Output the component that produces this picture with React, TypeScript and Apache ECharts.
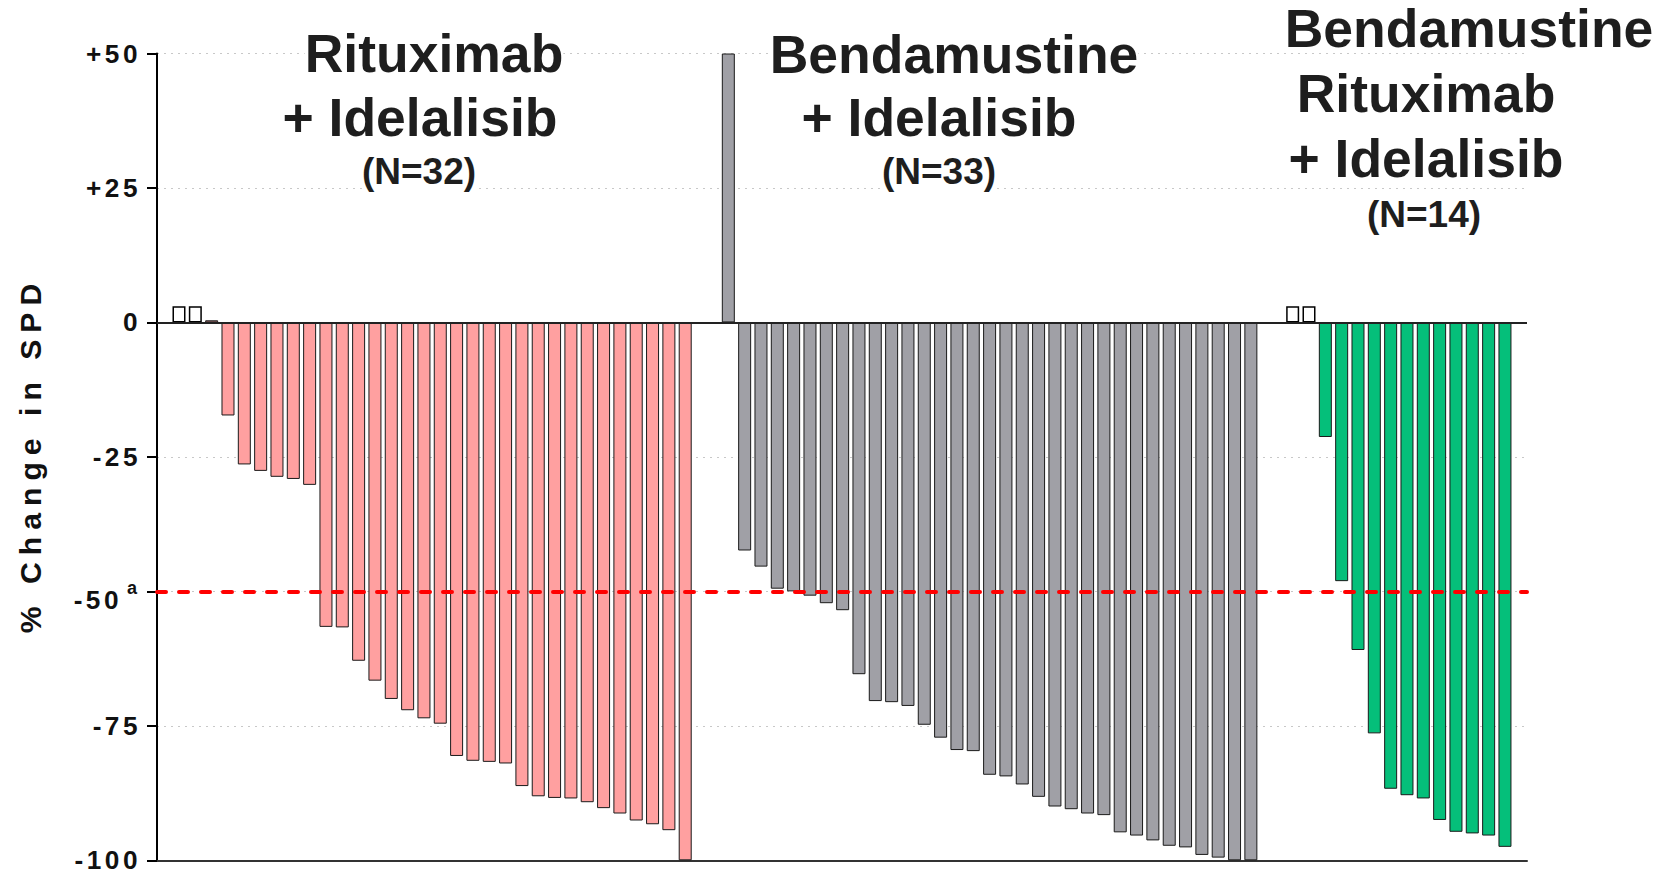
import React, { useEffect, useRef } from 'react';
import * as echarts from 'echarts';

// Best % change in SPD per patient, sorted within each arm.
// Open boxes mark patients drawn as empty markers on the baseline.
const rituxIdelaOpen = [3, 3];
const rituxIdelaChange = [
  0.4, -17.3, -26.4, -27.6, -28.7, -29.1, -30.2, -56.6, -56.7, -62.9, -66.6, -70.0,
  -72.1, -73.6, -74.6, -80.6, -81.5, -81.7, -82.0, -86.2, -88.1, -88.4, -88.5, -89.2,
  -90.3, -91.3, -92.6, -93.3, -94.4, -100,
];
const bendaIdelaChange = [
  50, -42.4, -45.4, -49.5, -50.0, -50.8, -52.2, -53.5, -65.4, -70.4, -70.6, -71.3,
  -74.8, -77.2, -79.5, -79.7, -84.1, -84.4, -85.9, -88.2, -90.0, -90.5, -91.3, -91.6,
  -94.8, -95.4, -96.3, -97.3, -97.6, -99.0, -99.5, -100, -100,
];
const bendaRituxIdelaOpen = [3, 3];
const bendaRituxIdelaChange = [
  -21.3, -48.1, -60.9, -76.4, -86.7, -87.9, -88.5, -92.5, -94.7, -95.0, -95.4, -97.5,
];

const yMin = -100;
const yMax = 50;
const yStep = 25;
const responseThreshold = -50;

const armTitles = [
  ['Rituximab', '+ Idelalisib', '(N=32)'],
  ['Bendamustine', '+ Idelalisib', '(N=33)'],
  ['Bendamustine', 'Rituximab', '+ Idelalisib', '(N=14)'],
];
const yAxisTitle = '% Change in SPD';

// ---- layout (slot units on the x axis, pixels elsewhere) ----
const ARM_START = [0, 33.64, 68.2];
const X_MIN = -1.347;
const X_MAX = 82.55;
const BAR_W = 13;

// [centerX, centerY, fontSize, whiteBox] for each title line
const titleLayout: [number, number, number, boolean][][] = [
  [[434, 53.5, 53.5, true], [420, 117, 53.5, true], [419, 171, 37, true]],
  [[954, 54, 53.5, true], [939, 117, 53.5, true], [939, 171, 37, true]],
  [[1469, 28, 53.5, false], [1426, 93, 53.5, false], [1426, 158, 53.5, false], [1424, 214, 37, false]],
];

const FONT = '"Liberation Sans", Arial, Helvetica, sans-serif';
// letter-spaced texts are picked out by their (unique) font sizes
const TICK_FS = 26.2;
const YTITLE_FS = 30.2;

const css = `
.spd-chart text[style*="26.2px"] { letter-spacing: 3.5px; }
.spd-chart text[style*="30.2px"] { letter-spacing: 7px; }
`;

const PINK = '#FFA0A0';
const GRAY = '#A0A0A6';
const GREEN = '#05BF7A';
const EDGE = '#1a1a1a';

const place = (start: number, values: number[]) =>
  values.map((v, i) => [start + i, v]);

export default function App() {
  const ref = useRef<HTMLDivElement>(null);

  useEffect(() => {
    document.body.style.margin = '0';
    if (!ref.current) return;
    const chart = echarts.init(ref.current, undefined, { renderer: 'svg' });

    const barBase = {
      type: 'bar' as const,
      barWidth: BAR_W,
      barGap: '-100%',
      silent: true,
    };

    const graphics: any[] = [];
    armTitles.forEach((lines, g) => {
      lines.forEach((line, i) => {
        const [cx, cy, fs, box] = titleLayout[g][i];
        graphics.push({
          type: 'text',
          x: cx,
          y: cy,
          z: 100,
          silent: true,
          style: {
            text: line,
            fontSize: fs,
            fontWeight: 'bold',
            fontFamily: FONT,
            fill: '#1e1e1e',
            align: 'center',
            verticalAlign: 'middle',
            textAlign: 'center',
            textVerticalAlign: 'middle',
            backgroundColor: box ? '#ffffff' : 'transparent',
          },
        });
      });
    });

    graphics.push({
      type: 'text',
      x: 30,
      y: 455,
      rotation: Math.PI / 2,
      z: 100,
      silent: true,
      style: {
        text: yAxisTitle,
        fontSize: YTITLE_FS,
        fontWeight: 'bold',
        fontFamily: FONT,
        fill: '#111111',
        align: 'center',
        verticalAlign: 'middle',
        textAlign: 'center',
        textVerticalAlign: 'middle',
      },
    });

    chart.setOption({
      animation: false,
      backgroundColor: '#ffffff',
      grid: { left: 157, right: 143, top: 53.5, bottom: 13.7, containLabel: false },
      xAxis: {
        type: 'value',
        min: X_MIN,
        max: X_MAX,
        axisLine: { show: true, onZero: false, lineStyle: { color: '#333333', width: 2 } },
        axisTick: { show: false },
        axisLabel: { show: false },
        splitLine: { show: false },
      },
      yAxis: {
        type: 'value',
        min: yMin,
        max: yMax,
        interval: yStep,
        axisLine: { show: true, onZero: false, lineStyle: { color: '#000000', width: 2 } },
        axisTick: { show: true, length: 10, lineStyle: { color: '#000000', width: 2 } },
        splitLine: {
          show: true,
          lineStyle: { color: '#c8c8c8', width: 1, type: [2, 5] },
        },
        axisLabel: {
          margin: 16,
          color: '#111111',
          fontSize: TICK_FS,
          fontWeight: 'bold',
          fontFamily: FONT,
          formatter: (v: number) => {
            if (v === responseThreshold) return `{v|${v}}{sup|a}`;
            return v > 0 ? `+${v}` : `${v}`;
          },
          rich: {
            v: {
              fontSize: TICK_FS,
              fontWeight: 'bold',
              fontFamily: FONT,
              color: '#111111',
              padding: [18, 0, 0, 0],
            },
            sup: {
              fontSize: 18,
              fontWeight: 'bold',
              fontFamily: FONT,
              color: '#111111',
              padding: [0, 4, 6, 5],
            },
          },
        },
      },
      graphic: graphics,
      series: [
        {
          ...barBase,
          name: 'Rituximab + Idelalisib (open)',
          data: place(ARM_START[0], rituxIdelaOpen),
          itemStyle: { color: '#ffffff', borderColor: '#000000', borderWidth: 1.5 },
        },
        {
          ...barBase,
          name: 'Rituximab + Idelalisib',
          data: place(ARM_START[0] + rituxIdelaOpen.length, rituxIdelaChange),
          itemStyle: { color: PINK, borderColor: EDGE, borderWidth: 1 },
        },
        {
          ...barBase,
          name: 'Bendamustine + Idelalisib',
          data: place(ARM_START[1], bendaIdelaChange),
          itemStyle: { color: GRAY, borderColor: EDGE, borderWidth: 1 },
        },
        {
          ...barBase,
          name: 'Bendamustine Rituximab + Idelalisib (open)',
          data: place(ARM_START[2], bendaRituxIdelaOpen),
          itemStyle: { color: '#ffffff', borderColor: '#000000', borderWidth: 1.5 },
        },
        {
          ...barBase,
          name: 'Bendamustine Rituximab + Idelalisib',
          data: place(ARM_START[2] + bendaRituxIdelaOpen.length, bendaRituxIdelaChange),
          itemStyle: { color: GREEN, borderColor: EDGE, borderWidth: 1 },
          markLine: {
            silent: true,
            symbol: ['none', 'none'],
            label: { show: false },
            data: [
              { yAxis: 0, lineStyle: { color: '#222222', width: 2, type: 'solid' } },
              {
                yAxis: responseThreshold,
                lineStyle: { color: '#ff0000', width: 4, type: [9, 13], cap: 'round' },
              },
            ],
          },
        },
      ],
    });

    return () => chart.dispose();
  }, []);

  return (
    <>
      <style>{css}</style>
      <div ref={ref} className="spd-chart" style={{ width: 1670, height: 874 }} />
    </>
  );
}
